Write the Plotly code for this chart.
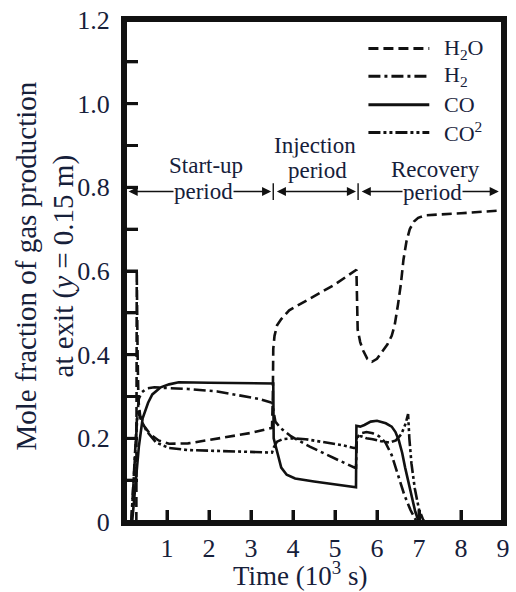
import plotly.graph_objects as go

# Exit gas composition (mole fraction) vs. time (10^3 s)
h2o_t = [0.27, 0.28, 0.30, 0.32, 0.36, 0.45, 0.60, 0.80, 1.05, 1.50, 2.00, 2.50, 3.00, 3.50,
         3.52, 3.53, 3.56, 3.62, 3.72, 3.91, 4.20, 4.53, 5.00, 5.51,
         5.52, 5.54, 5.60, 5.67, 5.77, 5.88, 6.00, 6.12, 6.25, 6.35, 6.42, 6.50, 6.57,
         6.63, 6.70, 6.78, 6.88, 6.98, 7.14, 8.00, 9.00]
h2o_y = [0.00, 0.60, 0.40, 0.29, 0.255, 0.23, 0.21, 0.195, 0.187, 0.188, 0.196, 0.204, 0.213, 0.225,
         0.30, 0.414, 0.445, 0.47, 0.485, 0.506, 0.522, 0.541, 0.568, 0.603,
         0.50, 0.46, 0.43, 0.41, 0.39, 0.383, 0.39, 0.407, 0.425, 0.445, 0.47, 0.52, 0.57,
         0.627, 0.67, 0.70, 0.718, 0.727, 0.733, 0.738, 0.745]

h2_t = [0.15, 0.22, 0.28, 0.33, 0.40, 0.51, 0.70, 1.05, 1.50, 2.20, 2.80, 3.20, 3.50,
        3.53, 3.58, 3.70, 3.95, 4.40, 4.74, 5.10, 5.47, 5.50,
        5.52, 5.60, 5.75, 5.90, 6.05, 6.20, 6.35, 6.50, 6.65, 6.80, 6.95, 9.00]
h2_y = [0.00, 0.12, 0.24, 0.295, 0.31, 0.319, 0.322, 0.32, 0.318, 0.312, 0.302, 0.294, 0.285,
        0.27, 0.24, 0.225, 0.205, 0.18, 0.163, 0.147, 0.13, 0.13,
        0.20, 0.212, 0.215, 0.212, 0.205, 0.19, 0.16, 0.115, 0.065, 0.028, 0.00, 0.00]

co_t = [0.17, 0.25, 0.33, 0.42, 0.55, 0.65, 0.85, 1.05, 1.28, 2.00, 3.00, 3.53,
        3.54, 3.60, 3.72, 3.85, 4.05, 4.50, 5.00, 5.50,
        5.51, 5.60, 5.70, 5.85, 6.00, 6.21, 6.35, 6.44, 6.52, 6.60, 6.67, 6.79, 6.91, 6.98, 7.05, 9.00]
co_y = [0.00, 0.10, 0.18, 0.248, 0.285, 0.305, 0.322, 0.329, 0.334, 0.333, 0.332, 0.331,
        0.20, 0.175, 0.13, 0.113, 0.104, 0.097, 0.09, 0.083,
        0.23, 0.228, 0.232, 0.24, 0.242, 0.236, 0.228, 0.215, 0.195, 0.165, 0.13, 0.076, 0.025, 0.005, 0.00, 0.00]

co2_t = [0.15, 0.22, 0.27, 0.30, 0.40, 0.51, 0.74, 1.05, 1.50, 2.20, 3.00, 3.50,
         3.55, 3.62, 3.75, 3.95, 4.30, 4.80, 5.20, 5.45, 5.50,
         5.52, 5.62, 5.75, 5.90, 6.10, 6.30, 6.45, 6.58, 6.68, 6.74, 6.77, 6.82, 6.90, 7.00, 7.10, 7.14, 9.00]
co2_y = [0.00, 0.13, 0.23, 0.265, 0.24, 0.218, 0.19, 0.177, 0.172, 0.17, 0.167, 0.166,
         0.18, 0.192, 0.198, 0.20, 0.198, 0.19, 0.183, 0.177, 0.177,
         0.205, 0.205, 0.20, 0.198, 0.193, 0.19, 0.195, 0.21, 0.235, 0.258, 0.20, 0.14, 0.08, 0.03, 0.005, 0.00, 0.00]

series_names = ["H<sub>2</sub>O", "H<sub>2</sub>", "CO", "CO<sup>2</sup>"]
series_t = [h2o_t, h2_t, co_t, co2_t]
series_y = [h2o_y, h2_y, co_y, co2_y]
series_dash = ["10px,5px", "12px,4px,3px,4px", "solid", "12px,3px,3px,3px,3px,3px"]

# tick marks: x every 1, y every 0.1 (labels on every other y tick)
x_tick_marks = [1, 2, 3, 4, 5, 6, 7, 8]
y_tick_marks = [0.1, 0.2, 0.3, 0.4, 0.5, 0.6, 0.7, 0.8, 0.9, 1.0, 1.1]
y_label_alias = {"0.1": " ", "0.3": " ", "0.5": " ", "0.7": " ", "0.9": " ",
                 "1": "1.0", "1.1": " "}
x_label_alias = {"0": " "}

# period boundaries and label positions
period_edges = [0.0, 3.53, 5.55, 8.95]
period_arrow_y = 0.79
period_labels = [("Start-up", 1.93, 0.852), ("period", 1.86, 0.79),
                 ("Injection", 4.53, 0.9), ("period", 4.58, 0.84),
                 ("Recovery", 7.40, 0.842), ("period", 7.33, 0.787)]

TEXT = "#16203a"
INK = "#111111"
FONT = "Liberation Serif"

fig = go.Figure()
for name, t, y, dash in zip(series_names, series_t, series_y, series_dash):
    fig.add_trace(go.Scatter(x=t, y=y, mode="lines", name=name, showlegend=False,
                             line=dict(color=INK, width=2.6, dash=dash)))

# frame and inward tick marks
fig.add_shape(type="rect", xref="paper", yref="paper", x0=0, x1=1, y0=0, y1=1,
              line=dict(color=INK, width=4), layer="above")
for v in x_tick_marks:
    fig.add_shape(type="line", xref="x", yref="paper", x0=v, x1=v,
                  ysizemode="pixel", yanchor=0, y0=0, y1=12,
                  line=dict(color=INK, width=3), layer="above")
for v in y_tick_marks:
    fig.add_shape(type="line", xref="paper", yref="y", y0=v, y1=v,
                  xsizemode="pixel", xanchor=0, x0=0, x1=13,
                  line=dict(color=INK, width=3), layer="above")

# key: line sample + label for each species
key_rows = [0.943, 0.888, 0.831, 0.776]
for name, dash, ky in zip(series_names, series_dash, key_rows):
    fig.add_shape(type="line", xref="paper", yref="paper", x0=0.644, x1=0.805, y0=ky, y1=ky,
                  line=dict(color=INK, width=3, dash=dash))
    fig.add_annotation(xref="paper", yref="paper", x=0.838, y=ky, xanchor="left",
                       yanchor="middle", text=name, showarrow=False,
                       font=dict(family=FONT, size=22, color=TEXT))

# double-headed arrows for the three periods
for a, b in zip(period_edges[:-1], period_edges[1:]):
    fig.add_annotation(x=b - 0.05, y=period_arrow_y, ax=a + 0.05, ay=period_arrow_y,
                       xref="x", yref="y", axref="x", ayref="y", text="",
                       showarrow=True, arrowhead=2, arrowsize=1.3, arrowwidth=1.4,
                       arrowside="end+start", arrowcolor=INK)
for e in period_edges[1:3]:
    fig.add_shape(type="line", x0=e, x1=e, y0=period_arrow_y - 0.02, y1=period_arrow_y + 0.02,
                  xref="x", yref="y", line=dict(color=INK, width=1.4))

for txt, x, y in period_labels:
    fig.add_annotation(x=x, y=y, text=txt, showarrow=False, xref="x", yref="y",
                       font=dict(family=FONT, size=23, color=TEXT),
                       bgcolor="white" if txt == "period" else None, borderpad=0)

# axis titles
fig.add_annotation(xref="paper", yref="paper", x=-0.21, y=0.51, xanchor="center",
                   yanchor="middle", textangle=-90,
                   text="Mole fraction of gas production<br>at exit (<i>y</i> = 0.15 m)",
                   showarrow=False, font=dict(family=FONT, size=29, color=TEXT))
fig.add_annotation(xref="paper", yref="paper", x=0.462, y=-0.104, xanchor="center",
                   yanchor="middle", text="Time (10<sup>3</sup> s)", showarrow=False,
                   font=dict(family=FONT, size=27, color=TEXT))

fig.update_xaxes(range=[0, 9], tickmode="linear", tick0=0, dtick=1, labelalias=x_label_alias,
                 ticks="inside", ticklen=12, tickwidth=3, tickcolor=INK,
                 showline=True, linewidth=4, linecolor=INK, mirror=True,
                 showgrid=False, zeroline=False,
                 tickfont=dict(family=FONT, size=26, color=TEXT))
fig.update_yaxes(range=[0, 1.2], tickmode="linear", tick0=0, dtick=0.1, labelalias=y_label_alias,
                 ticks="inside", ticklen=13, tickwidth=3, tickcolor=INK,
                 showline=True, linewidth=4, linecolor=INK, mirror=True,
                 showgrid=False, zeroline=False, ticklabelstandoff=6,
                 tickfont=dict(family=FONT, size=26, color=TEXT))

fig.update_layout(
    width=516, height=592,
    margin=dict(l=125, r=6, t=14, b=70),
    paper_bgcolor="white", plot_bgcolor="white",
    showlegend=False,
)

fig.write_html("out.html")
